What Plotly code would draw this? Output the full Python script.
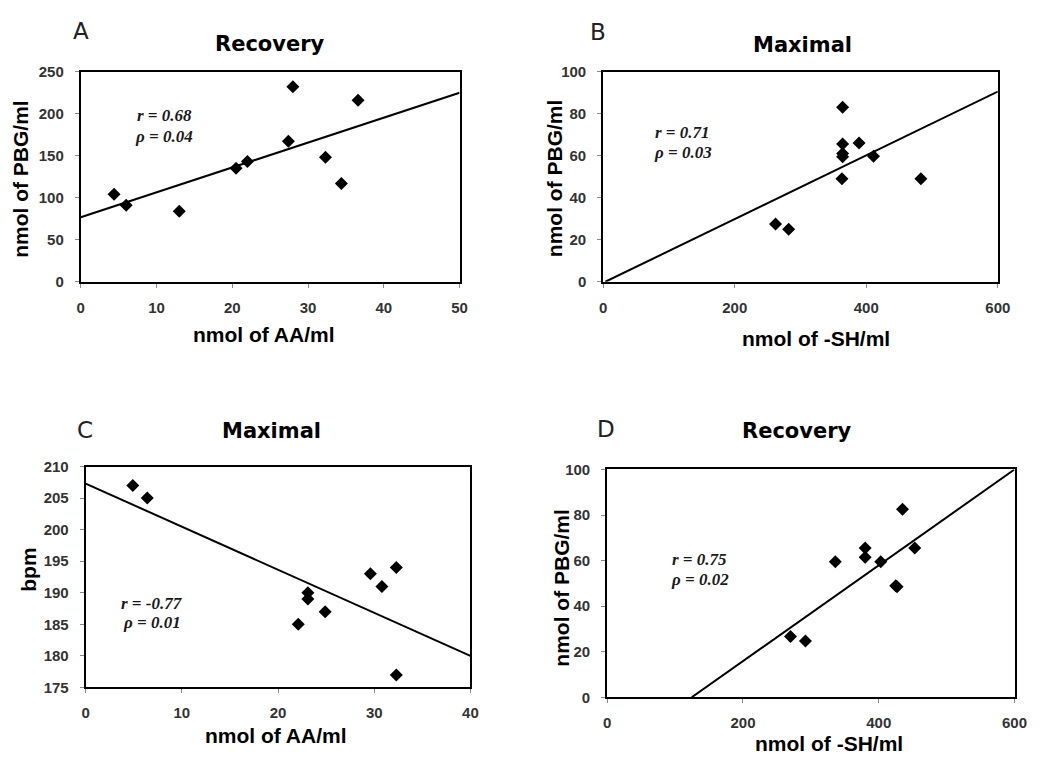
import plotly.graph_objects as go

W, H = 1060, 761

# ---------------- data ----------------
# Panel A: Recovery, AA vs PBG
a_x = [4.4, 6.0, 13.0, 20.5, 22.0, 27.4, 28.0, 32.3, 34.4, 36.6]
a_y = [104, 91, 84, 135, 143, 167, 232, 148, 117, 216]
a_line_x = [0, 50]
a_line_y = [76.7, 224.8]

# Panel B: Maximal, -SH vs PBG
b_x = [262, 282, 364, 364, 364, 364, 363, 389, 411, 483]
b_y = [27.5, 25, 83, 65.5, 61, 59.5, 49, 66, 59.7, 49]
b_line_x = [3.2, 600]
b_line_y = [0, 90.5]

# Panel C: Maximal, AA vs bpm
c_x = [4.9, 6.4, 22.1, 23.1, 23.1, 24.9, 29.6, 30.8, 32.3, 32.3]
c_y = [207, 205, 185, 190, 189, 187, 193, 191, 194, 177]
c_line_x = [0, 40]
c_line_y = [207.3, 180.0]

# Panel D: Recovery, -SH vs PBG
d_x = [270, 292, 336, 380, 380, 403, 425, 427, 435, 453]
d_y = [26.7, 24.7, 59.5, 65.5, 61.5, 59.5, 49, 48.5, 82.5, 65.5]
d_line_x = [124.5, 600]
d_line_y = [0, 100]

panel_letters = ["A", "B", "C", "D"]
panel_titles = ["Recovery", "Maximal", "Maximal", "Recovery"]
x_titles = ["nmol of AA/ml", "nmol of -SH/ml", "nmol of AA/ml", "nmol of -SH/ml"]
y_titles = ["nmol of PBG/ml", "nmol of PBG/ml", "bpm", "nmol of PBG/ml"]
r_texts = ["r = 0.68", "r = 0.71", "r = -0.77", "r = 0.75"]
p_texts = ["ρ = 0.04", "ρ = 0.03", "ρ = 0.01", "ρ = 0.02"]

x_ranges = [[0, 50], [0, 600], [0, 40], [0, 600]]
y_ranges = [[0, 250], [0, 100], [175, 210], [0, 100]]
x_dticks = [10, 200, 10, 200]
y_dticks = [50, 20, 5, 20]

# ---------------- layout helpers (pixel -> paper) ----------------
def px(x):
    return x / W

def py(y):
    return 1 - y / H

# plot areas in pixels: (left, right, top, bottom)
areas = [(78, 463, 64, 279), (609, 1010, 64, 279), (83, 474, 468, 694), (613, 1027, 471, 704)]

data_sets = [
    (a_x, a_y, a_line_x, a_line_y),
    (b_x, b_y, b_line_x, b_line_y),
    (c_x, c_y, c_line_x, c_line_y),
    (d_x, d_y, d_line_x, d_line_y),
]

fig = go.Figure()
for i, (xs, ys, lx, ly) in enumerate(data_sets):
    xa = "x" if i == 0 else f"x{i+1}"
    ya = "y" if i == 0 else f"y{i+1}"
    fig.add_trace(go.Scatter(x=lx, y=ly, mode="lines", xaxis=xa, yaxis=ya,
                             line=dict(color="black", width=2), showlegend=False,
                             hoverinfo="skip"))
    fig.add_trace(go.Scatter(x=xs, y=ys, mode="markers", xaxis=xa, yaxis=ya,
                             marker=dict(symbol="diamond", size=10, color="black"),
                             showlegend=False))

tick_font = dict(family="Liberation Sans, Arial", size=15, color="#333333", weight="bold")
layout = dict(autosize=True, margin=dict(l=0, r=0, t=0, b=0, pad=0),
              paper_bgcolor="white", plot_bgcolor="white", showlegend=False)

for i, (l, r, t, b) in enumerate(areas):
    xk = "xaxis" if i == 0 else f"xaxis{i+1}"
    yk = "yaxis" if i == 0 else f"yaxis{i+1}"
    xa = "x" if i == 0 else f"x{i+1}"
    ya = "y" if i == 0 else f"y{i+1}"
    layout[xk] = dict(domain=[px(l), px(r)], anchor=ya, range=x_ranges[i], dtick=x_dticks[i],
                      tick0=0, showline=True, linecolor="black", linewidth=2, mirror=True,
                      ticks="outside", ticklen=4, tickwidth=1, tickcolor="#888888",
                      showgrid=False, zeroline=False, tickfont=tick_font,
                      ticklabelstandoff=7, fixedrange=True)
    layout[yk] = dict(domain=[py(b), py(t)], anchor=xa, range=y_ranges[i], dtick=y_dticks[i],
                      tick0=0, showline=True, linecolor="black", linewidth=2, mirror=True,
                      ticks="outside", ticklen=4, tickwidth=1, tickcolor="#888888",
                      showgrid=False, zeroline=False, tickfont=tick_font,
                      ticklabelstandoff=8, fixedrange=True)

fig.update_layout(**layout)

ann = []
def add_text(text, x, y, size, family="Liberation Sans, Arial", color="black", angle=0, xanchor="center"):
    ann.append(dict(text=text, x=px(x), y=py(y), xref="paper", yref="paper",
                    xanchor=xanchor, yanchor="middle", showarrow=False, textangle=angle,
                    font=dict(family=family, size=size, color=color)))

letter_pos = [(78, 23), (604, 24), (82, 431), (612, 430)]
title_pos = [(270, 36), (812, 37), (272, 432), (806, 432)]
xtitle_pos = [(264, 333), (825, 337), (276, 743), (838, 751)]
ytitle_pos = [(16, 174), (559, 173), (25, 574), (567, 592)]
r_pos = [(163, 109), (690, 126), (150, 608), (707, 563)]
p_pos = [(163, 130), (690, 147), (150, 628), (707, 584)]

for i in range(4):
    add_text(panel_letters[i], *letter_pos[i], 23, family="DejaVu Sans", color="#222222")
    add_text("<b>" + panel_titles[i] + "</b>", *title_pos[i], 21, family="DejaVu Sans")
    add_text("<b>" + x_titles[i] + "</b>", *xtitle_pos[i], 21)
    add_text("<b>" + y_titles[i] + "</b>", *ytitle_pos[i], 21, angle=-90)
    add_text("<b><i>" + r_texts[i] + "</i></b>", *r_pos[i], 17, family="Liberation Serif, Times New Roman", color="#1a1a1a")
    add_text("<b><i>" + p_texts[i] + "</i></b>", *p_pos[i], 17, family="Liberation Serif, Times New Roman", color="#1a1a1a")

fig.update_layout(annotations=ann)
fig.write_html("out.html", default_width="100vw", default_height="100vh",
               config={"displayModeBar": False, "responsive": True},
               post_script="document.documentElement.style.margin='0';document.body.style.margin='0';document.body.style.overflow='hidden';")
